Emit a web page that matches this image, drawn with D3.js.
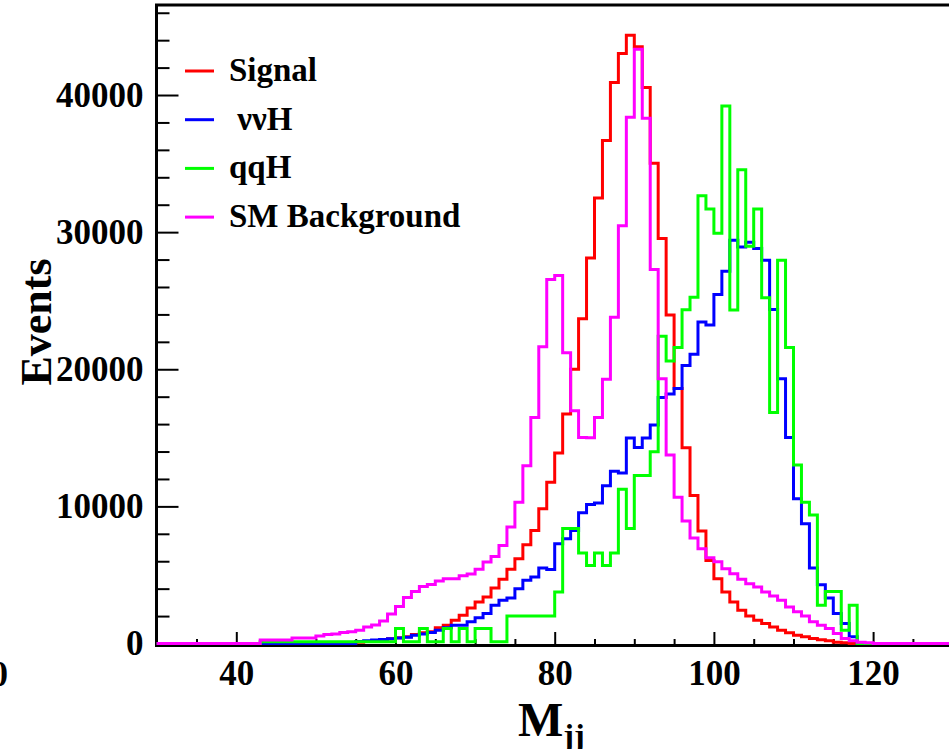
<!DOCTYPE html>
<html>
<head>
<meta charset="utf-8">
<script src="https://cdn.jsdelivr.net/npm/d3@7"></script>
<style>
  body { margin: 0; background: #fff; }
  svg { display: block; }
  text { font-family: "Liberation Serif", "Times New Roman", serif; font-weight: bold; fill: #000; }
</style>
</head>
<body>
<svg id="chart" width="949" height="749"></svg>
<script>
// histogram bins: 1 GeV wide, first bin starts at 30
const binStart = 30;
const binWidth = 1;

const signal = [
  0, 0, 0, 0, 0, 0, 0, 0, 0, 0, 0, 0, 0, 0, 0, 0, 0, 0, 0, 0, 0, 0, 0, 0, 0,
  100, 150, 200, 250, 350, 420, 490, 650, 780, 850, 1140, 1330, 1700, 2060, 2590,
  3030, 3390, 4050, 4680, 5410, 6180, 7200, 8240, 9820, 11760, 13890, 16730, 20000,
  23690, 28120, 32490, 36680, 40920, 43030, 44360, 43520, 40540, 35030, 29530, 23960,
  18600, 14270, 10790, 8210, 6060, 4730, 3760, 3030, 2420, 2010, 1700, 1450, 1210,
  970, 780, 600, 490, 360, 280, 200, 100, 50,
  0, 0, 0, 0, 0, 0, 0, 0, 0, 0, 0, 0, 0
];

const nunuH = [
  0, 0, 0, 0, 0, 0, 0, 0, 0, 0, 0, 0, 0, 0, 0, 0, 0, 0, 0, 0, 0, 0, 0, 0, 0,
  150, 200, 250, 300, 350, 400, 450, 600, 700, 800, 970, 1140, 1330, 1330, 1580,
  1870, 2180, 2790, 3150, 3320, 4000, 4610, 4850, 5500, 5400, 7270, 7640, 8240,
  9530, 10130, 10250, 11510, 12560, 12440, 14980, 14300, 14980, 15930, 17940, 18200,
  18600, 20270, 21090, 23440, 23230, 25450, 27150, 29410, 28920, 29260, 28800, 27950,
  24360, 19310, 15030, 10550, 8730, 5500, 4290, 3320, 2180, 1450, 490,
  0, 0, 0, 0, 0, 0, 0, 0, 0, 0, 0, 0
];

const qqH = [
  0, 0, 0, 0, 0, 0, 0, 0, 0, 0, 0, 0, 0,
  120, 120, 120, 120, 120, 120, 120, 120, 120, 120, 120, 120, 120, 120, 120, 120, 120,
  1090, 120, 120, 1090, 120, 120, 1090, 120, 1090, 120, 1090, 1090, 120, 120,
  2010, 2010, 2010, 2010, 2010, 2010, 3760, 8390, 8390, 6600, 5680, 6600, 5680, 6600,
  11250, 8390, 12250, 12250, 13990, 22400, 20610, 21580, 24340, 25250, 32660, 31690,
  29920, 39200, 24320, 34550, 28970, 31690, 25210, 16850, 27950, 21580, 13020, 10300,
  9380, 2790, 3800, 3800, 970, 2790,
  0, 0, 0, 0, 0, 0, 0, 0, 0, 0, 0, 0
];

const smBackground = [
  0, 0, 0, 0, 0, 0, 0, 0, 0, 0, 0, 0, 0,
  250, 250, 250, 250, 400, 400, 400, 550, 650, 700, 800, 850, 970, 1210, 1350, 1650,
  2150, 2700, 3350, 3800, 4150, 4300, 4550, 4730, 4730, 4950, 5060, 5420, 5940, 6340,
  7150, 8490, 10300, 12970, 16490, 21650, 26540, 26840, 21210, 16970, 15030, 15000,
  16490, 19270, 23800, 30470, 38380, 43330, 38300, 27270, 19300, 13750, 10670, 8930,
  7700, 6910, 6260, 5970, 5450, 5090, 4680, 4360, 4120, 3760, 3470, 3150, 2670, 2310,
  2010, 1580, 1330, 1090, 730, 360, 200, 100, 50,
  0, 0, 0, 0, 0, 0, 0, 0, 0, 0
];

const seriesNames = ["Signal", " \u03bd\u03bdH", "qqH", "SM Background"];
const seriesColors = ["#ff0000", "#0000ff", "#00ff00", "#ff00ff"];
const seriesValues = [signal, nunuH, qqH, smBackground];

const xMajorTicks = [40, 60, 80, 100, 120];
const yMajorTicks = [0, 10000, 20000, 30000, 40000];

const svg = d3.select("#chart");

const x = d3.scaleLinear().domain([30, 130]).range([156.7, 952.7]);
const y = d3.scaleLinear().domain([0, 46565]).range([643.5, 5]);

// y axis ticks (drawn inside the frame)
const yMinor = d3.range(0, 46001, 2000).filter(v => v % 10000 !== 0);
svg.append("g")
  .attr("transform", "translate(156.5,0)")
  .call(d3.axisRight(y).tickValues(yMinor).tickSize(13).tickFormat(""))
  .call(g => g.select(".domain").remove())
  .selectAll("line").attr("stroke", "#000").attr("stroke-width", 2);

svg.append("g")
  .attr("transform", "translate(156.5,0)")
  .call(d3.axisLeft(y).tickValues(yMajorTicks).tickSize(0).tickPadding(13)
    .tickFormat(d3.format("d")))
  .call(g => g.select(".domain").remove())
  .call(g => g.selectAll("text").attr("font-size", 35).attr("font-family", "Liberation Serif"));

svg.append("g")
  .attr("transform", "translate(156.5,0)")
  .call(d3.axisRight(y).tickValues(yMajorTicks).tickSize(22).tickFormat(""))
  .call(g => g.select(".domain").remove())
  .selectAll("line").attr("stroke", "#000").attr("stroke-width", 2);

// x axis ticks
const xMinor = d3.range(35, 130, 5).filter(v => v % 20 !== 0);
svg.append("g")
  .attr("transform", "translate(0,645)")
  .call(d3.axisTop(x).tickValues(xMinor).tickSize(6).tickFormat(""))
  .call(g => g.select(".domain").remove())
  .selectAll("line").attr("stroke", "#000").attr("stroke-width", 2);

svg.append("g")
  .attr("transform", "translate(0,645)")
  .call(d3.axisTop(x).tickValues(xMajorTicks).tickSize(13).tickFormat(""))
  .call(g => g.select(".domain").remove())
  .selectAll("line").attr("stroke", "#000").attr("stroke-width", 2);

svg.append("g")
  .attr("transform", "translate(0,645)")
  .call(d3.axisBottom(x).tickValues(xMajorTicks).tickSize(0).tickPadding(15))
  .call(g => g.select(".domain").remove())
  .call(g => g.selectAll("text").attr("font-size", 35).attr("font-family", "Liberation Serif"));

// frame: left axis, top line, bottom axis
svg.append("path")
  .attr("d", "M157,5 H960 M156.5,3.5 V646.5 M155,645.5 H960")
  .attr("fill", "none")
  .attr("stroke", "#000")
  .attr("stroke-width", 3);

// histograms as step outlines
const line = d3.line().x(d => x(d[0])).y(d => y(d[1]));
seriesValues.forEach((vals, i) => {
  const pts = [];
  vals.forEach((v, b) => {
    const lo = binStart + b * binWidth;
    pts.push([lo, v], [lo + binWidth, v]);
  });
  svg.append("path")
    .datum(pts)
    .attr("d", line)
    .attr("fill", "none")
    .attr("stroke", seriesColors[i])
    .attr("stroke-width", 3)
    .attr("stroke-linejoin", "miter");
});

// legend
const legend = svg.append("g");
seriesNames.forEach((name, i) => {
  const ly = 71 + i * 48.7;
  legend.append("line")
    .attr("x1", 185).attr("x2", 214)
    .attr("y1", ly).attr("y2", ly)
    .attr("stroke", seriesColors[i])
    .attr("stroke-width", 3);
  legend.append("text")
    .attr("x", 229).attr("y", ly + 10)
    .attr("font-size", 33)
    .attr("xml:space", "preserve")
    .style("white-space", "pre")
    .text(name);
});

// axis titles
svg.append("text")
  .attr("transform", "translate(51,322) rotate(-90)")
  .attr("text-anchor", "middle")
  .attr("font-size", 44)
  .text("Events");

// x title sits low, its subscript runs off the bottom like in the original
const xt = svg.append("text").attr("x", 518).attr("y", 736).attr("font-size", 48);
xt.append("tspan").text("M");
xt.append("tspan").attr("font-size", 32).attr("dy", 10).text("jj");

// stray label cut at the left edge of the original figure
svg.append("text")
  .attr("x", 8).attr("y", 686)
  .attr("text-anchor", "end")
  .attr("font-size", 35)
  .text("0");
</script>
</body>
</html>
